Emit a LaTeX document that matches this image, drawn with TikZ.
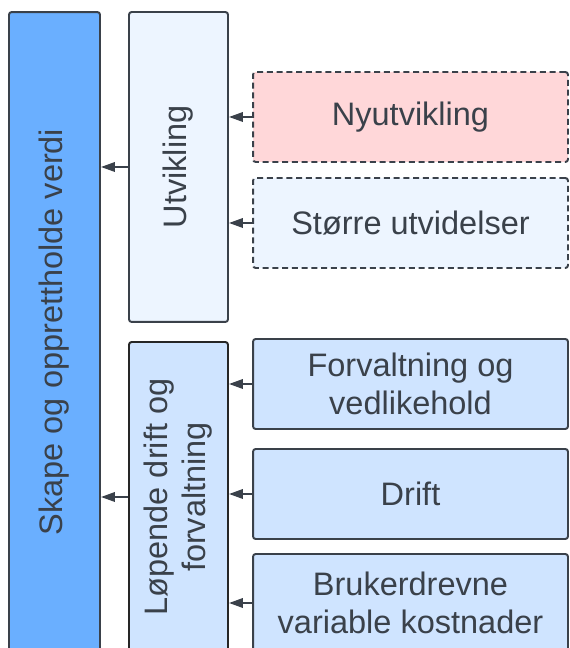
\documentclass[tikz,border=0pt]{standalone}
\usepackage{fontspec}
\setmainfont{Liberation Sans}
\usepackage{tikz}
\usetikzlibrary{arrows.meta}
\definecolor{edge}{HTML}{3A414A}
\definecolor{verdiblue}{HTML}{6AAFFF}
\definecolor{paleblue}{HTML}{EDF5FF}
\definecolor{lightblue}{HTML}{CFE4FF}
\definecolor{palered}{HTML}{FFD7D9}
\def\boxnode{\node[draw=edge,line width=1.1pt,rounded corners=1.5pt,text=edge,inner sep=0pt,align=center]}
\def\drawarrow{\draw[edge,line width=1.1pt,-{Triangle[length=2.8mm,width=1.9mm]}]}

\begin{document}
\begin{tikzpicture}[x=0.02cm,y=0.02cm,font=\fontsize{18.5}{21.6}\selectfont,
  dashbox/.style={dash pattern=on 1.2mm off 0.75mm}]
\useasboundingbox (0,0) rectangle (569,648);
\clip (0,0) rectangle (569,648);

% -------- left column, runs past the bottom edge ---------
\boxnode[fill=verdiblue,minimum width=1.82cm,minimum height=12.8cm] (verdi) at (54.5,316)
  {\rotatebox{90}{Skape og opprettholde verdi}};

% -------- middle column ---------
\boxnode[fill=paleblue,minimum width=1.98cm,minimum height=6.2cm] (utv) at (178.5,481)
  {\rotatebox{90}{Utvikling}};
\boxnode[fill=lightblue,draw=black!85,minimum width=1.98cm,minimum height=6.2cm] (lop) at (178.5,151)
  {\rotatebox{90}{\begin{tabular}{@{}c@{}}Løpende drift og\\forvaltning\end{tabular}}};

% -------- right column ---------
\boxnode[fill=palered,dashbox,minimum width=6.3cm,minimum height=1.8cm] (nyutv) at (410.5,531) {Nyutvikling};
\boxnode[fill=paleblue,dashbox,minimum width=6.3cm,minimum height=1.8cm] (storre) at (410.5,425) {Større utvidelser};
\boxnode[fill=lightblue,minimum width=6.3cm,minimum height=1.8cm] (forv) at (410.5,264) {Forvaltning og\\vedlikehold};
\boxnode[fill=lightblue,minimum width=6.3cm,minimum height=1.8cm] (drift) at (410.5,154) {Drift};
\boxnode[fill=lightblue,minimum width=6.3cm,minimum height=1.96cm] (bruk) at (410.5,45) {Brukerdrevne\\variable kostnader};

% arrows point from child to parent
\drawarrow (utv.west) -- (utv.west -| verdi.east);
\drawarrow (lop.west) -- (lop.west -| verdi.east);
\drawarrow (nyutv.west) -- (nyutv.west -| utv.east);
\drawarrow (storre.west) -- (storre.west -| utv.east);
\drawarrow (forv.west) -- (forv.west -| lop.east);
\drawarrow (drift.west) -- (drift.west -| lop.east);
\drawarrow (bruk.west) -- (bruk.west -| lop.east);
\end{tikzpicture}
\end{document}
